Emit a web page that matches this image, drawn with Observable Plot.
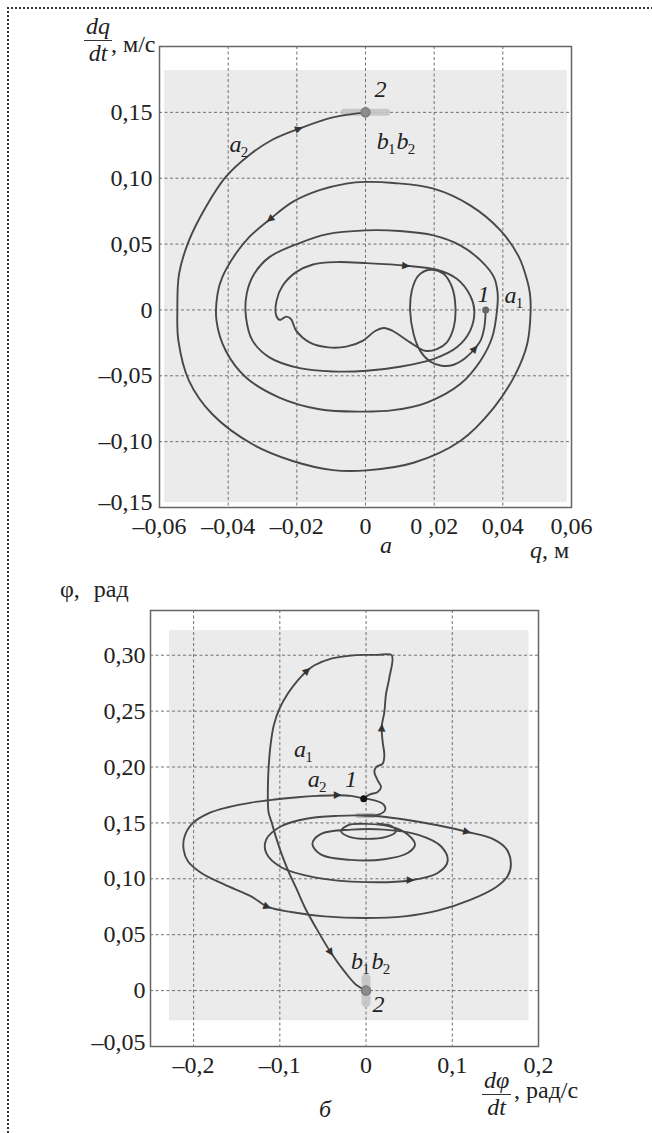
<!DOCTYPE html>
<html><head><meta charset="utf-8">
<script src="https://cdn.jsdelivr.net/npm/d3@7"></script>
<script src="https://cdn.jsdelivr.net/npm/@observablehq/plot@0.6"></script>
<style>
body{margin:0;background:#fff;}
#page{position:relative;width:652px;height:1133px;overflow:hidden;font-family:'Liberation Serif';color:#222;}
.border{position:absolute;left:7px;top:7px;width:800px;height:1300px;border-top:2px dotted #333;border-left:2px dotted #333;}
.chart{position:absolute;left:0;}
.lbl{position:absolute;font-family:'Liberation Serif';font-size:24px;line-height:1;white-space:nowrap;}
.it{font-style:italic;}
.frac{position:absolute;display:flex;flex-direction:column;align-items:center;font-family:'Liberation Serif';font-style:italic;font-size:24px;line-height:0.95;}
.frac .num{border-bottom:1.3px solid #333;padding:0 2px 2px;}
.frac .den{padding-top:1px;}
</style></head>
<body><div id="page">
<div class="border"></div>
<div id="top" class="chart" style="top:0"></div>
<div id="bot" class="chart" style="top:570px"></div>
<div class="frac" style="left:84px;top:15px"><span class="num">dq</span><span class="den">dt</span></div>
<div class="lbl" style="left:111px;top:32px">, м/с</div>
<div class="lbl it" style="left:380px;top:533px">a</div>
<div class="lbl" style="left:530px;top:538px"><span class="it">q</span>, м</div>
<div class="lbl" style="left:60px;top:577px">φ, <span style="margin-left:8px">рад</span></div>
<div class="frac" style="left:482px;top:1069px"><span class="num">dφ</span><span class="den">dt</span></div>
<div class="lbl" style="left:514px;top:1078px">, рад/с</div>
<div class="lbl it" style="left:319px;top:1097px">б</div>
</div>
<script>
// ---------- top chart (a): q, м  vs  dq/dt, м/с ----------
const topXTicks = [-0.06, -0.04, -0.02, 0, 0.02, 0.04, 0.06];
const topXLabels = ["–0,06", "–0,04", "–0,02", "0", "0 ,02", "0,04", "0,06"];
const topYTicks = [-0.15, -0.10, -0.05, 0, 0.05, 0.10, 0.15];
const topYLabels = ["–0,15", "–0,10", "–0,05", "0", "0,05", "0,10", "0,15"];
const topPlate = [{x1: -0.0585, x2: 0.0588, y1: -0.1463, y2: 0.1817}];
// trajectory from point 1 to point 2 (q, dq/dt)
const topPath = [[0.0350,0.0000],[0.0346,-0.0132],[0.0335,-0.0233],[0.0320,-0.0289],[0.0291,-0.0365],[0.0257,-0.0416],[0.0222,-0.0424],[0.0188,-0.0391],[0.0159,-0.0310],[0.0140,-0.0183],[0.0130,-0.0005],[0.0135,0.0147],[0.0154,0.0261],[0.0188,0.0305],[0.0227,0.0274],[0.0252,0.0173],[0.0262,0.0020],[0.0257,-0.0132],[0.0237,-0.0246],[0.0208,-0.0297],[0.0174,-0.0310],[0.0130,-0.0246],[0.0081,-0.0162],[0.0054,-0.0137],[0.0027,-0.0162],[-0.0007,-0.0233],[-0.0056,-0.0279],[-0.0109,-0.0284],[-0.0163,-0.0246],[-0.0202,-0.0157],[-0.0217,-0.0069],[-0.0231,-0.0051],[-0.0249,-0.0076],[-0.0260,-0.0043],[-0.0259,0.0071],[-0.0241,0.0185],[-0.0202,0.0287],[-0.0153,0.0345],[-0.0085,0.0363],[0.0003,0.0355],[0.0120,0.0335],[0.0208,0.0305],[0.0266,0.0236],[0.0305,0.0109],[0.0317,-0.0005],[0.0305,-0.0157],[0.0266,-0.0284],[0.0198,-0.0373],[0.0100,-0.0431],[0.0003,-0.0462],[-0.0095,-0.0467],[-0.0192,-0.0442],[-0.0280,-0.0360],[-0.0329,-0.0233],[-0.0348,-0.0056],[-0.0346,0.0122],[-0.0324,0.0274],[-0.0280,0.0401],[-0.0192,0.0508],[-0.0114,0.0574],[0.0000,0.0604],[0.0100,0.0599],[0.0198,0.0566],[0.0276,0.0490],[0.0335,0.0376],[0.0374,0.0249],[0.0385,0.0122],[0.0383,-0.0005],[0.0369,-0.0208],[0.0335,-0.0386],[0.0276,-0.0563],[0.0179,-0.0703],[0.0081,-0.0761],[-0.0017,-0.0772],[-0.0134,-0.0754],[-0.0251,-0.0665],[-0.0348,-0.0513],[-0.0407,-0.0310],[-0.0434,-0.0081],[-0.0431,0.0122],[-0.0417,0.0249],[-0.0378,0.0426],[-0.0339,0.0553],[-0.0280,0.0685],[-0.0212,0.0820],[-0.0134,0.0909],[-0.0056,0.0959],[0.0000,0.0972],[0.0081,0.0964],[0.0198,0.0921],[0.0305,0.0794],[0.0393,0.0604],[0.0447,0.0401],[0.0471,0.0223],[0.0479,0.0122],[0.0481,-0.0005],[0.0471,-0.0259],[0.0437,-0.0487],[0.0374,-0.0741],[0.0276,-0.0995],[0.0140,-0.1160],[0.0003,-0.1218],[-0.0095,-0.1216],[-0.0212,-0.1147],[-0.0329,-0.1020],[-0.0446,-0.0792],[-0.0514,-0.0538],[-0.0545,-0.0233],[-0.0548,-0.0005],[-0.0543,0.0274],[-0.0514,0.0528],[-0.0465,0.0782],[-0.0407,0.1010],[-0.0339,0.1175],[-0.0270,0.1294],[-0.0192,0.1378],[-0.0095,0.1462],[0.0000,0.1500]];
const topPoint1 = [{q: 0.0350, v: 0.0000}];
const topPoint2 = [{q: 0.0000, v: 0.1500}];
const topArrows = [{q: 0.0320, v: -0.0289, a: 41}, {q: 0.0120, v: 0.0335, a: 95}, {q: -0.0280, v: 0.0685, a: 231}, {q: -0.0192, v: 0.1378, a: 70}];
const topLabels = [
  {q: 0.0044, v: 0.1677, t: "2", s: ""},
  {q: -0.0379, v: 0.1259, t: "a", s: "2"},
  {q: 0.0050, v: 0.1278, t: "b", s: "1"},
  {q: 0.0108, v: 0.1278, t: "b", s: "2"},
  {q: 0.0344, v: 0.0120, t: "1", s: ""},
  {q: 0.0422, v: 0.0109, t: "a", s: "1"}
];

// ---------- bottom chart (б): dφ/dt, рад/с  vs  φ, рад ----------
const botXTicks = [-0.2, -0.1, 0, 0.1, 0.2];
const botXLabels = ["–0,2", "–0,1", "0", "0,1", "0,2"];
const botYTicks = [-0.05, 0, 0.05, 0.10, 0.15, 0.20, 0.25, 0.30];
const botYLabels = ["–0,05", "0", "0,05", "0,10", "0,15", "0,20", "0,25", "0,30"];
const botPlate = [{x1: -0.228, x2: 0.189, y1: -0.027, y2: 0.322}];
const botPathA1 = [[-0.0027,0.1717],[0.0039,0.1753],[0.0135,0.1777],[0.0174,0.1821],[0.0135,0.1881],[0.0096,0.1955],[0.0116,0.2000],[0.0193,0.2030],[0.0212,0.2104],[0.0193,0.2223],[0.0181,0.2357],[0.0212,0.2491],[0.0231,0.2650],[0.0270,0.2800],[0.0297,0.3000],[0.0135,0.3003],[0.0000,0.3003],[-0.0174,0.2997],[-0.0405,0.2970],[-0.0598,0.2910],[-0.0676,0.2866],[-0.0792,0.2776],[-0.0907,0.2657],[-0.1004,0.2522],[-0.1070,0.2373],[-0.1108,0.2194],[-0.1131,0.1985],[-0.1139,0.1776],[-0.1131,0.1597],[-0.1093,0.1500],[-0.1042,0.1366],[-0.0977,0.1216],[-0.0900,0.1067],[-0.0811,0.0918],[-0.0707,0.0739],[-0.0579,0.0560],[-0.0405,0.0336],[-0.0251,0.0172],[-0.0116,0.0052],[0.0000,0.0000]];
const botPathA2 = [[-0.0027,0.1717],[-0.0174,0.1742],[-0.0328,0.1748],[-0.0560,0.1742],[-0.0792,0.1730],[-0.1062,0.1709],[-0.1332,0.1682],[-0.1602,0.1640],[-0.1834,0.1584],[-0.2008,0.1500],[-0.2104,0.1381],[-0.2116,0.1261],[-0.2066,0.1157],[-0.1911,0.1052],[-0.1641,0.0948],[-0.1332,0.0843],[-0.1139,0.0748],[-0.0869,0.0703],[-0.0483,0.0664],[0.0000,0.0649],[0.0444,0.0664],[0.0830,0.0715],[0.1216,0.0813],[0.1506,0.0924],[0.1641,0.1022],[0.1680,0.1127],[0.1633,0.1261],[0.1486,0.1351],[0.1178,0.1419],[0.0830,0.1479],[0.0444,0.1530],[0.0174,0.1557],[-0.0019,0.1566],[-0.0328,0.1563],[-0.0676,0.1539],[-0.0985,0.1470],[-0.1158,0.1351],[-0.1158,0.1231],[-0.0985,0.1103],[-0.0598,0.1013],[0.0000,0.0970],[0.0521,0.0987],[0.0830,0.1052],[0.0946,0.1157],[0.0869,0.1291],[0.0598,0.1396],[0.0212,0.1440],[-0.0174,0.1440],[-0.0521,0.1402],[-0.0622,0.1312],[-0.0521,0.1216],[-0.0174,0.1169],[0.0212,0.1175],[0.0483,0.1231],[0.0568,0.1306],[0.0483,0.1396],[0.0309,0.1461],[0.0000,0.1491],[-0.0212,0.1479],[-0.0290,0.1425],[-0.0193,0.1375],[0.0000,0.1357],[0.0232,0.1375],[0.0347,0.1425],[0.0290,0.1473],[0.0135,0.1494]];
const botSquiggle = [[-0.0027,0.1717],[0.0096,0.1702],[0.0205,0.1663],[0.0220,0.1613],[0.0154,0.1577],[-0.0019,0.1566]];
const botPoint1 = [{x: -0.0027, y: 0.1717}];
const botPoint2 = [{x: 0.0000, y: 0.0000}];
const botBlob = [{x: -0.0005, y: 0.1566}];
const botArrows = [{x: 0.0181, y: 0.2357, a: 3}, {x: -0.0676, y: 0.2866, a: 48}, {x: -0.0328, y: 0.1748, a: 90}, {x: -0.1139, y: 0.0748, a: 111}, {x: 0.1178, y: 0.1419, a: 104}, {x: 0.0521, y: 0.0987, a: 92}, {x: -0.0405, y: 0.0336, a: 147}];
const botLabels = [
  {x: -0.0765, y: 0.2160, t: "a", s: "1"},
  {x: -0.0608, y: 0.1892, t: "a", s: "2"},
  {x: -0.0174, y: 0.1892, t: "1", s: ""},
  {x: -0.0104, y: 0.0264, t: "b", s: "1"},
  {x: 0.0133, y: 0.0264, t: "b", s: "2"},
  {x: 0.0145, y: -0.0121, t: "2", s: ""}
];

const LINE = "#484848";
const GRID = {stroke: "#707070", strokeOpacity: 1, strokeWidth: 1, strokeDasharray: "3,2.5"};
const TICKFONT = 24;

function lookup(ticks, labels) { return d => labels[ticks.findIndex(t => Math.abs(t - d) < 1e-9)]; }

function arrowMarks(data, xk, yk) {
  return Plot.text(data, {x: xk, y: yk, text: () => "▲", rotate: "a", fontSize: 10, fill: "#333", fontFamily: "DejaVu Sans", lineAnchor: "middle", className: "arrowhead"});
}
function labelMarks(data, xk, yk) {
  return [
    Plot.text(data, {x: xk, y: yk, text: "t", fontStyle: "italic", fontSize: 24, fill: "#222"}),
    Plot.text(data.filter(d => d.s), {x: xk, y: yk, text: "s", dx: 9, dy: 8, fontSize: 15, fill: "#222"})
  ];
}
function serifize(svg) {
  svg.style.fontFamily = "'Liberation Serif'";
  svg.querySelectorAll("text").forEach(t => {
    const g = t.closest("g");
    if (g && g.classList.contains("arrowhead")) t.style.fontFamily = "'DejaVu Sans'";
    else t.style.fontFamily = "'Liberation Serif'";
  });
  return svg;
}

const topChart = Plot.plot({
  width: 652, height: 570,
  marginLeft: 159, marginRight: 81, marginTop: 46, marginBottom: 63,
  x: {domain: [-0.06, 0.06]},
  y: {domain: [-0.15, 0.20]},
  style: {fontSize: TICKFONT + "px", color: "#222", background: "transparent"},
  marks: [
    Plot.rect(topPlate, {x1: "x1", x2: "x2", y1: "y1", y2: "y2", fill: "#ebebeb"}),
    Plot.gridX(topXTicks, GRID),
    Plot.gridY(topYTicks, GRID),
    Plot.frame({stroke: "#666", strokeWidth: 1.5}),
    Plot.axisX(topXTicks, {tickSize: 0, tickPadding: 9, tickFormat: lookup(topXTicks, topXLabels), fontSize: TICKFONT, label: null}),
    Plot.axisY(topYTicks.slice(1), {tickSize: 0, tickPadding: 7, tickFormat: lookup(topYTicks, topYLabels), fontSize: TICKFONT, label: null}),
    Plot.axisY(topYTicks.slice(0, 1), {tickSize: 0, tickPadding: 7, dy: -5, tickFormat: lookup(topYTicks, topYLabels), fontSize: TICKFONT, label: null}),
    Plot.link(topPoint2, {x1: d => d.q - 0.0062, x2: d => d.q + 0.0062, y1: "v", y2: "v", stroke: "#c4c4c4", strokeWidth: 7, strokeLinecap: "round", strokeOpacity: 0.9}),
    Plot.line(topPath, {x: d => d[0], y: d => d[1], stroke: LINE, strokeWidth: 1.9, curve: "catmull-rom"}),
    arrowMarks(topArrows, "q", "v"),
    Plot.dot(topPoint1, {x: "q", y: "v", r: 3.5, fill: "#666"}),
    Plot.dot(topPoint2, {x: "q", y: "v", r: 4.5, fill: "#8c8c8c", stroke: "#7a7a7a"}),
    ...labelMarks(topLabels, "q", "v")
  ]
});
document.getElementById("top").append(serifize(topChart));

const botChart = Plot.plot({
  width: 652, height: 563,
  marginLeft: 150, marginRight: 114, marginTop: 40, marginBottom: 87,
  x: {domain: [-0.25, 0.20]},
  y: {domain: [-0.05, 0.34]},
  style: {fontSize: TICKFONT + "px", color: "#222", background: "transparent"},
  marks: [
    Plot.rect(botPlate, {x1: "x1", x2: "x2", y1: "y1", y2: "y2", fill: "#ebebeb"}),
    Plot.gridX(botXTicks, GRID),
    Plot.gridY(botYTicks, GRID),
    Plot.frame({stroke: "#666", strokeWidth: 1.5}),
    Plot.axisX(botXTicks, {tickSize: 0, tickPadding: 9, tickFormat: lookup(botXTicks, botXLabels), fontSize: TICKFONT, label: null}),
    Plot.axisY(botYTicks.slice(1), {tickSize: 0, tickPadding: 5, tickFormat: lookup(botYTicks, botYLabels), fontSize: TICKFONT, label: null}),
    Plot.axisY(botYTicks.slice(0, 1), {tickSize: 0, tickPadding: 5, dy: -4, tickFormat: lookup(botYTicks, botYLabels), fontSize: TICKFONT, label: null}),
    Plot.link(botPoint2, {x1: "x", x2: "x", y1: d => d.y - 0.011, y2: d => d.y + 0.011, stroke: "#c4c4c4", strokeWidth: 9, strokeLinecap: "round", strokeOpacity: 0.9}),
    Plot.link(botBlob, {x1: d => d.x - 0.009, x2: d => d.x + 0.009, y1: "y", y2: "y", stroke: "#bbbbbb", strokeWidth: 5, strokeLinecap: "round"}),
    Plot.line(botPathA1, {x: d => d[0], y: d => d[1], stroke: LINE, strokeWidth: 1.9, curve: "catmull-rom"}),
    Plot.line(botPathA2, {x: d => d[0], y: d => d[1], stroke: LINE, strokeWidth: 1.9, curve: "catmull-rom"}),
    Plot.line(botSquiggle, {x: d => d[0], y: d => d[1], stroke: LINE, strokeWidth: 1.9, curve: "catmull-rom"}),
    arrowMarks(botArrows, "x", "y"),
    Plot.dot(botPoint2, {x: "x", y: "y", r: 4.5, fill: "#8c8c8c", stroke: "#7a7a7a"}),
    Plot.dot(botPoint1, {x: "x", y: "y", r: 3.5, fill: "#111"}),
    ...labelMarks(botLabels, "x", "y")
  ]
});
document.getElementById("bot").append(serifize(botChart));
</script>
</body></html>
